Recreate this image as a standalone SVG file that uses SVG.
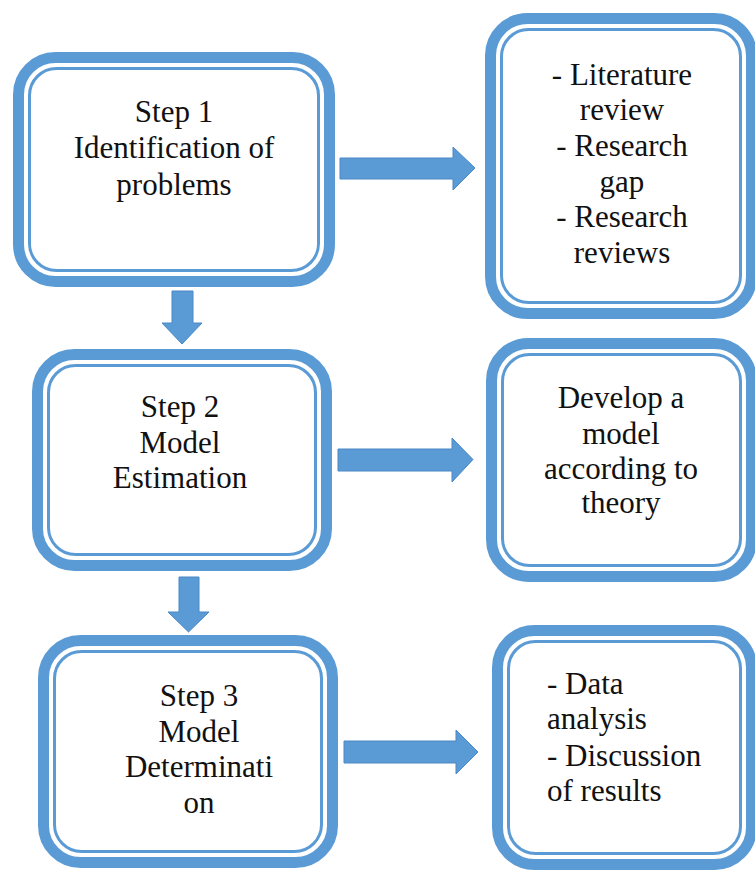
<svg xmlns="http://www.w3.org/2000/svg" width="755" height="871" viewBox="0 0 755 871">
<style>
.outer{fill:#fff;stroke:#5B9BD5;stroke-width:11}
.inner{fill:none;stroke:#5B9BD5;stroke-width:3}
text{font-family:'Liberation Serif', 'Times New Roman', Tinos, 'DejaVu Serif', serif;font-size:31px;fill:#111}
.c{text-anchor:middle}
.arr{fill:#5B9BD5;stroke:#4A88C7;stroke-width:1}
</style>
<rect width="755" height="871" fill="#fff"/>
<g id="step1">
<rect class="outer" x="18.5" y="57.5" width="311" height="224" rx="37"/>
<rect class="inner" x="29.5" y="68.5" width="289" height="202" rx="27"/>
<text class="c" x="174" y="122" font-family="Liberation Serif">Step 1</text>
<text class="c" x="174" y="158" font-family="Liberation Serif">Identification of</text>
<text class="c" x="174" y="195" font-family="Liberation Serif">problems</text>
</g>
<g id="lit">
<rect class="outer" x="490.5" y="18.5" width="261" height="295" rx="37"/>
<rect class="inner" x="501.5" y="29.5" width="239" height="273" rx="27"/>
<text class="c" x="622" y="85">- Literature</text>
<text class="c" x="622" y="120">review</text>
<text class="c" x="622" y="156">- Research</text>
<text class="c" x="622" y="192">gap</text>
<text class="c" x="622" y="227">- Research</text>
<text class="c" x="622" y="263">reviews</text>
</g>
<g id="step2">
<rect class="outer" x="37.5" y="354.5" width="289" height="211" rx="37"/>
<rect class="inner" x="48.5" y="365.5" width="267" height="189" rx="27"/>
<text class="c" x="180" y="417">Step 2</text>
<text class="c" x="180" y="453">Model</text>
<text class="c" x="180" y="488">Estimation</text>
</g>
<g id="develop">
<rect class="outer" x="491.5" y="343.5" width="260" height="233" rx="37"/>
<rect class="inner" x="502.5" y="354.5" width="238" height="211" rx="27"/>
<text class="c" x="621" y="408">Develop a</text>
<text class="c" x="621" y="444">model</text>
<text class="c" x="621" y="479">according to</text>
<text class="c" x="621" y="513">theory</text>
</g>
<g id="step3">
<rect class="outer" x="43.5" y="640.5" width="289" height="222" rx="37"/>
<rect class="inner" x="54.5" y="651.5" width="267" height="200" rx="27"/>
<text class="c" x="199" y="706">Step 3</text>
<text class="c" x="199" y="742">Model</text>
<text class="c" x="199" y="777">Determinati</text>
<text class="c" x="199" y="813">on</text>
</g>
<g id="data">
<rect class="outer" x="497.5" y="630.5" width="254" height="234" rx="37"/>
<rect class="inner" x="508.5" y="641.5" width="232" height="212" rx="27"/>
<text x="547" y="694">- Data</text>
<text x="547" y="729">analysis</text>
<text x="547" y="766">- Discussion</text>
<text x="547" y="801">of results</text>
</g>
<g id="connectors">
<polygon class="arr" points="340,158 453,158 453,147 475,168 453,190 453,179 340,179"/>
<polygon class="arr" points="338,449 452,449 452,438 473,459.5 452,482 452,471 338,471"/>
<polygon class="arr" points="344,741 456,741 456,730 478,752 456,774 456,763 344,763"/>
<polygon class="arr" points="172,291 193,291 193,323 202,323 182,344 162,323 172,323"/>
<polygon class="arr" points="179,577 199,577 199,612 209,612 188.5,632 168,612 179,612"/>
</g>
</svg>
